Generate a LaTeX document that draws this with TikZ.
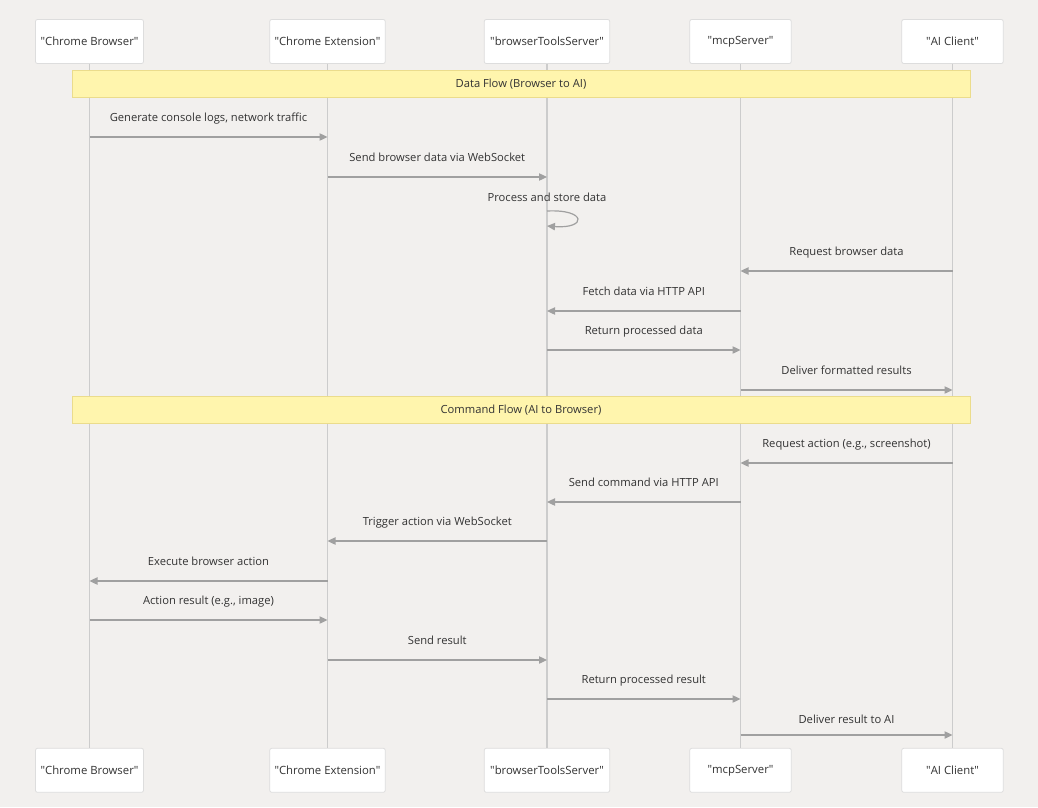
\documentclass[tikz,border=0pt]{standalone}
\usepackage{fontspec}
\setmainfont{Open Sans}
\usetikzlibrary{arrows.meta}
\definecolor{bg}{HTML}{F2F0EE}
\definecolor{boxline}{HTML}{DDDDDD}
\definecolor{life}{HTML}{CCCCCC}
\definecolor{msgline}{HTML}{A0A0A0}
\definecolor{notefill}{HTML}{FFF5AD}
\definecolor{noteline}{HTML}{EBDC8C}
\definecolor{txt}{HTML}{333333}
\newcommand\qd{\textquotedbl}
\tikzset{
  actor/.style={draw=boxline, fill=white, rounded corners=1.5pt, line width=0.6pt, minimum height=44*0.75pt, inner sep=0pt, text=txt, font=\fontsize{8.5}{10}\selectfont},
  lifeline/.style={draw=life, line width=1pt},
  msg/.style={draw=msgline, line width=0.9pt, -{Triangle[length=6pt,width=5.5pt,fill=msgline]}},
  labeltext/.style={text=txt, font=\fontsize{8.4}{10}\selectfont, inner sep=0pt, anchor=base},
  msglabel/.style={labeltext, yshift=11.4pt},
  notebox/.style={draw=noteline, fill=notefill, line width=0.6pt, text=txt, font=\fontsize{8.4}{10}\selectfont, inner sep=0pt}
}
\begin{document}
\begin{tikzpicture}[x=0.75pt,y=-0.75pt]
\fill[bg] (0,0) rectangle (1038,807);
\useasboundingbox (0,0) rectangle (1038,807);
\def\xa{89.5}\def\xb{327.5}\def\xc{547}\def\xd{740.5}\def\xe{952.5}
% top actors
\node[actor, minimum width=108*0.75pt] (ta) at (\xa,41.5) {\qd Chrome Browser\qd};
\node[actor, minimum width=115.5*0.75pt] (tb) at (\xb,41.5) {\qd Chrome Extension\qd};
\node[actor, minimum width=125.5*0.75pt] (tc) at (\xc,41.5) {\qd browserToolsServer\qd};
\node[actor, minimum width=101.5*0.75pt] (td) at (\xd,41.5) {\qd mcpServer\qd};
\node[actor, minimum width=101.5*0.75pt] (te) at (\xe,41.5) {\qd AI Client\qd};
% bottom actors
\node[actor, minimum width=108*0.75pt] (ba) at (\xa,770.3) {\qd Chrome Browser\qd};
\node[actor, minimum width=115.5*0.75pt] (bb) at (\xb,770.3) {\qd Chrome Extension\qd};
\node[actor, minimum width=125.5*0.75pt] (bc) at (\xc,770.3) {\qd browserToolsServer\qd};
\node[actor, minimum width=101.5*0.75pt] (bd) at (\xd,770.3) {\qd mcpServer\qd};
\node[actor, minimum width=101.5*0.75pt] (be) at (\xe,770.3) {\qd AI Client\qd};
% lifelines
\draw[lifeline] (ta.south) -- (ba.north);
\draw[lifeline] (tb.south) -- (bb.north);
\draw[lifeline] (tc.south) -- (bc.north);
\draw[lifeline] (td.south) -- (bd.north);
\draw[lifeline] (te.south) -- (be.north);
% notes
\node[notebox, minimum width=898*0.75pt, minimum height=27.5*0.75pt] (n1) at (521,84) {Data Flow (Browser to AI)};
\node[notebox, minimum width=898*0.75pt, minimum height=27.5*0.75pt] (n2) at (521,410) {Command Flow (AI to Browser)};
% message coordinates
\foreach \n/\y in {1/137,2/177,4/271,5/311,6/350,7/390,8/463,9/502,10/541,11/581,12/620,13/660,14/699,15/735}{
  \coordinate (a\n) at (\xa,\y); \coordinate (b\n) at (\xb,\y); \coordinate (c\n) at (\xc,\y);
  \coordinate (d\n) at (\xd,\y); \coordinate (e\n) at (\xe,\y);
}
\coordinate (c3s) at (\xc,211); \coordinate (c3e) at (\xc,226);
\draw[msg] (a1) -- node[msglabel] {Generate console logs, network traffic} (b1);
\draw[msg] (b2) -- node[msglabel] {Send browser data via WebSocket} (c2);
\draw[msg] (c3s) .. controls ++(40,-2) and ++(40,3) .. (c3e);
\node[labeltext] (l3) at (\xc,201.5) {Process and store data};
\draw[msg] (e4) -- node[msglabel] {Request browser data} (d4);
\draw[msg] (d5) -- node[msglabel] {Fetch data via HTTP API} (c5);
\draw[msg] (c6) -- node[msglabel] {Return processed data} (d6);
\draw[msg] (d7) -- node[msglabel] {Deliver formatted results} (e7);
\draw[msg] (e8) -- node[msglabel] {Request action (e.g., screenshot)} (d8);
\draw[msg] (d9) -- node[msglabel] {Send command via HTTP API} (c9);
\draw[msg] (c10) -- node[msglabel] {Trigger action via WebSocket} (b10);
\draw[msg] (b11) -- node[msglabel] {Execute browser action} (a11);
\draw[msg] (a12) -- node[msglabel] {Action result (e.g., image)} (b12);
\draw[msg] (b13) -- node[msglabel] {Send result} (c13);
\draw[msg] (c14) -- node[msglabel] {Return processed result} (d14);
\draw[msg] (d15) -- node[msglabel, yshift=-3pt] {Deliver result to AI} (e15);
\end{tikzpicture}
\end{document}
